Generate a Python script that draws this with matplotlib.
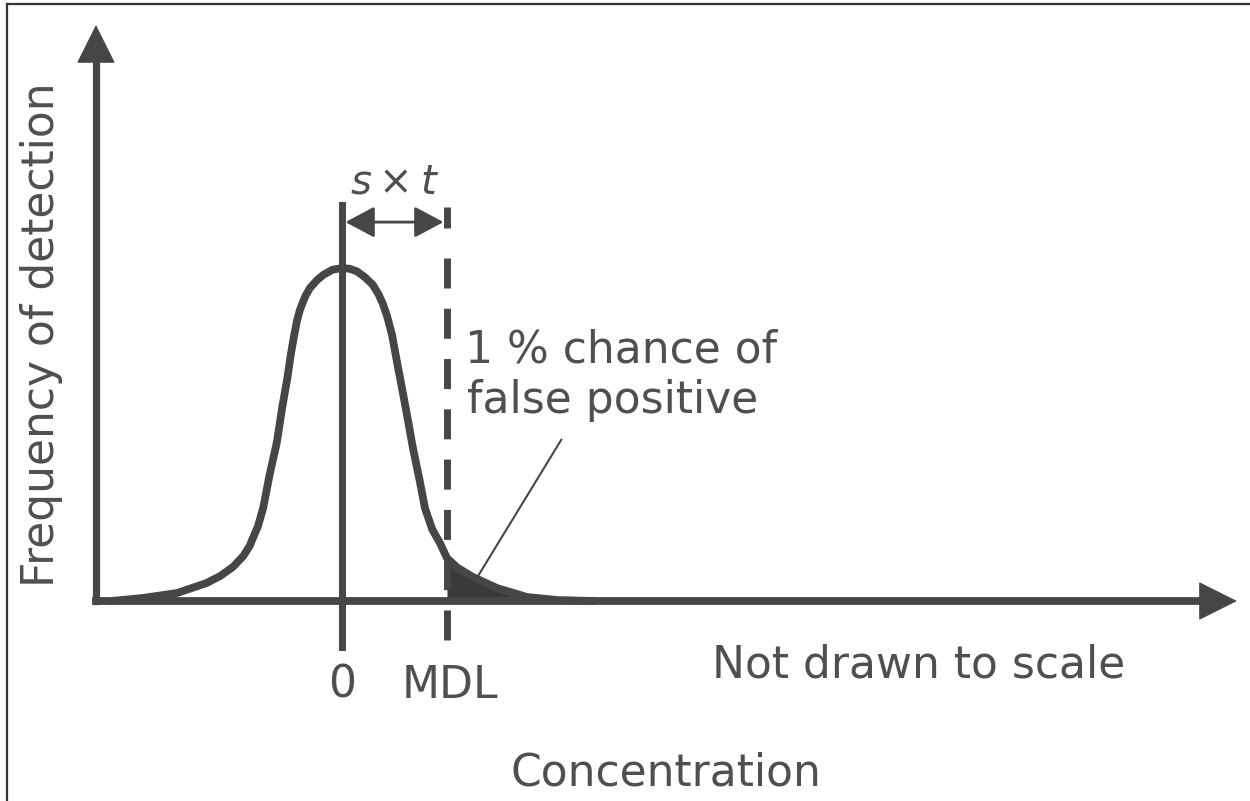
import numpy as np
import matplotlib
matplotlib.use("Agg")
import matplotlib.pyplot as plt
from matplotlib.lines import Line2D

# blank-sample distribution, x in units of s*t (MDL = 1), height relative to peak
CURVE_X = [-2.20, -1.90, -1.57, -1.29, -1.16, -1.04, -0.94, -0.88, -0.80, -0.75,
           -0.69, -0.62, -0.57, -0.52, -0.49, -0.46, -0.43, -0.40, -0.35, -0.305,
           -0.24, -0.18, -0.09, 0.00, 0.07, 0.143, 0.22, 0.295, 0.35, 0.39,
           0.43, 0.476, 0.524, 0.571, 0.619, 0.676, 0.743, 0.79, 0.86, 0.933,
           1.00, 1.10, 1.248, 1.476, 1.762, 2.048, 2.40]
CURVE_Y = [0.000, 0.009, 0.024, 0.054, 0.075, 0.102, 0.135, 0.165, 0.225, 0.280,
           0.378, 0.477, 0.580, 0.670, 0.735, 0.790, 0.840, 0.875, 0.915, 0.940,
           0.963, 0.979, 0.995, 1.000, 0.998, 0.990, 0.972, 0.949, 0.920, 0.892,
           0.855, 0.800, 0.718, 0.640, 0.559, 0.459, 0.357, 0.279, 0.215, 0.174,
           0.129, 0.100, 0.072, 0.039, 0.012, 0.003, 0.000]
ZERO = 0.0
MDL = 1.0

TICK_LABELS = ["0", "MDL"]
SPREAD_LABEL = r"$s\times t$"
TAIL_LABEL = ["1 % chance of", "false positive"]
NOTE = "Not drawn to scale"
XLABEL = "Concentration"
YLABEL = "Frequency of detection"

LINE = "#464646"
TEXT = "#4f4f4f"

plt.rcParams["font.family"] = "DejaVu Sans"
plt.rcParams["mathtext.fontset"] = "dejavusans"
plt.rcParams["lines.scale_dashes"] = False

fig = plt.figure(figsize=(12.5, 8.01), dpi=100)
ax = fig.add_axes([0, 0, 1, 1])
ax.set_xlim(-3.257, 8.648)
ax.set_ylim(-0.6006, 1.805)
ax.set_axis_off()

# frame around the figure (top and left edges only)
fig.add_artist(Line2D([7 / 1250, 1], [1 - 4 / 801] * 2, transform=fig.transFigure,
                      lw=1.6, color="#333333"))
fig.add_artist(Line2D([7 / 1250] * 2, [0, 1 - 4 / 801], transform=fig.transFigure,
                      lw=1.6, color="#333333"))

# axes with arrow heads
x0, x_tip, y_tip = -2.343, 8.524, 1.73
ax.plot([x0, 8.25], [0, 0], color=LINE, lw=5.6, solid_capstyle="projecting")
ax.plot([x0, x0], [0, 1.66], color=LINE, lw=5.2, solid_capstyle="projecting")
head = dict(arrowstyle="-|>,head_length=0.4,head_width=0.2", mutation_scale=64,
            color=LINE, lw=1, shrinkA=0, shrinkB=0)
ax.annotate("", xy=(x_tip, 0), xytext=(8.1, 0), arrowprops=head)
ax.annotate("", xy=(x0, y_tip), xytext=(x0, 1.6), arrowprops=head)

# distribution and shaded tail beyond the MDL
cx = np.array(CURVE_X)
cy = np.array(CURVE_Y)
ax.fill_between(cx, 0, cy, where=cx >= MDL, color="#3a3a3a", lw=0)
ax.plot(cx, cy, color=LINE, lw=5.6, solid_joinstyle="round", solid_capstyle="round")

# zero line and dashed MDL line
ax.plot([ZERO, ZERO], [1.189, -0.138], color=LINE, lw=5.0)
ax.plot([MDL, MDL], [1.183, 1.12], color=LINE, lw=5.0, solid_capstyle="butt")
ax.plot([MDL, MDL], [1.03, -0.141], color=LINE, lw=5.0,
        linestyle=(0, (21.6, 14.6)), dash_capstyle="butt")

# s*t span between the two lines
ax.annotate("", xy=(MDL, 1.138), xytext=(ZERO, 1.138),
            arrowprops=dict(arrowstyle="<|-|>,head_length=0.6,head_width=0.32",
                            mutation_scale=30, color=LINE, lw=2.0,
                            shrinkA=2.5, shrinkB=2.5))
ax.text((ZERO + MDL) / 2, 1.225, SPREAD_LABEL, ha="center", va="baseline",
        fontsize=29, color=TEXT)

# leader from the label to the tail area
ax.annotate("", xy=(1.29, 0.072), xytext=(2.09, 0.485),
            arrowprops=dict(arrowstyle="-", color=LINE, lw=1.5,
                            shrinkA=0, shrinkB=0))
ax.text(1.171, 0.715, TAIL_LABEL[0], ha="left", va="baseline",
        fontsize=31.7, color=TEXT)
ax.text(1.19, 0.565, TAIL_LABEL[1], ha="left", va="baseline",
        fontsize=31.7, color=TEXT)

# labels under the axis
ax.text(ZERO, -0.291, TICK_LABELS[0], ha="center", va="baseline",
        fontsize=31.7, color=TEXT)
ax.text(MDL + 0.03, -0.291, TICK_LABELS[1], ha="center", va="baseline",
        fontsize=31.7, color=TEXT)
ax.text(3.524, -0.231, NOTE, ha="left", va="baseline", fontsize=31.7, color=TEXT)
ax.text(3.086, -0.553, XLABEL, ha="center", va="baseline", fontsize=31.7, color=TEXT)
ax.text(-2.857, 0.799, YLABEL, ha="center", va="center", rotation=90,
        fontsize=31.7, color=TEXT)

fig.savefig("out.png", dpi=100)
